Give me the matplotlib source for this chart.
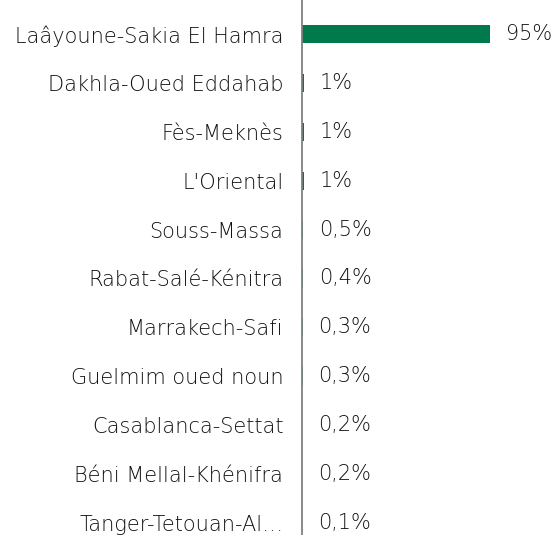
import matplotlib
matplotlib.use("Agg")
import matplotlib.pyplot as plt

regions = ["Laâyoune-Sakia El Hamra", "Dakhla-Oued Eddahab", "Fès-Meknès", "L'Oriental",
           "Souss-Massa", "Rabat-Salé-Kénitra", "Marrakech-Safi", "Guelmim oued noun",
           "Casablanca-Settat", "Béni Mellal-Khénifra", "Tanger-Tetouan-Al…"]
values = [95, 1, 1, 1, 0.5, 0.4, 0.3, 0.3, 0.2, 0.2, 0.1]
labels = ["95%", "1%", "1%", "1%", "0,5%", "0,4%", "0,3%", "0,3%", "0,2%", "0,2%", "0,1%"]

plt.rcParams['font.family'] = ['DejaVu Sans']
FS = 15
TC = "#111111"
FW = "light"
fig = plt.figure(figsize=(5.53, 5.35), dpi=100)
ax = fig.add_axes([302/553, 0, 1 - 302/553, 1])
y = list(range(len(regions)))
ax.barh(y, values, height=0.37, color="#007A4D")
ax.set_xlim(0, 95 * (553 - 302) / 188)
ax.set_ylim(10 + 12/48.9, -34/48.9)
for yi, v, lab in zip(y, values, labels):
    ax.annotate(lab, (v, yi), xytext=(16, 0), textcoords="offset pixels",
                va="center", ha="left", fontsize=FS, color=TC, fontweight=FW)
ax.set_yticks(y)
ax.set_yticklabels(regions, fontsize=FS, color=TC, fontweight=FW)
ax.tick_params(axis="y", length=0, pad=13.5)
ax.set_xticks([])
for s in ["top", "right", "bottom"]:
    ax.spines[s].set_visible(False)
ax.spines["left"].set_color("#808080")
ax.spines["left"].set_linewidth(1.3)
fig.savefig("out.png", dpi=100)
